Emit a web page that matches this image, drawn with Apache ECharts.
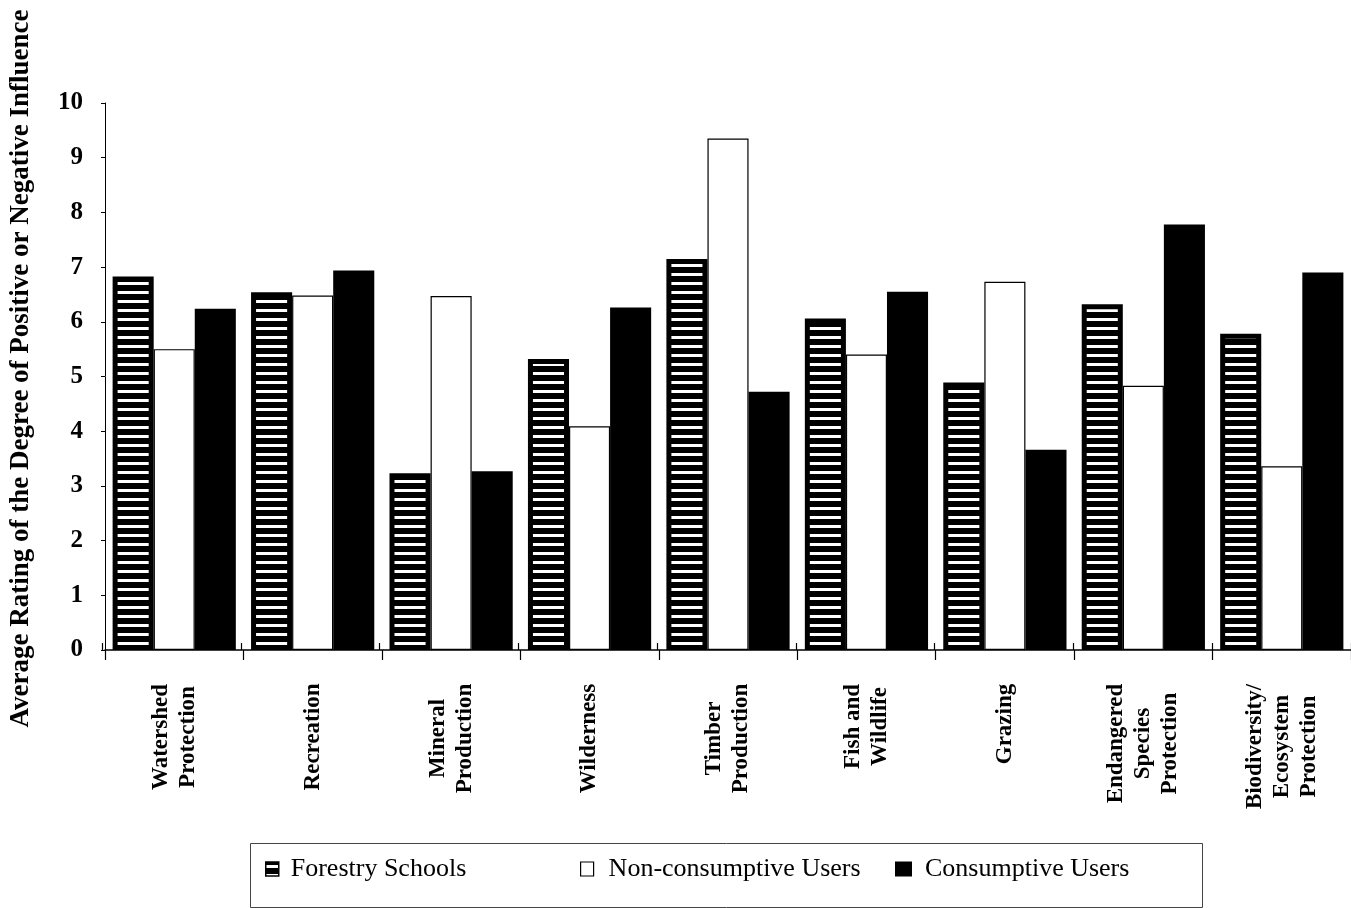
<!DOCTYPE html>
<html>
<head>
<meta charset="utf-8">
<script src="https://cdn.jsdelivr.net/npm/echarts@6/dist/echarts.min.js"></script>
<style>
html,body{margin:0;padding:0;background:#fff;}
#chart{width:1351px;height:908px;}
</style>
</head>
<body>
<div id="chart"></div>
<script>
// ---- data ----
const categories = ['Watershed\nProtection', 'Recreation', 'Mineral\nProduction', 'Wilderness',
  'Timber\nProduction', 'Fish and\nWildlife', 'Grazing', 'Endangered\nSpecies\nProtection',
  'Biodiversity/\nEcosystem\nProtection'];
const seriesNames = ['Forestry Schools', 'Non-consumptive Users', 'Consumptive Users'];
const forestrySchools = [6.83, 6.54, 3.23, 5.32, 7.15, 6.06, 4.89, 6.32, 5.78];
const nonConsumptive = [5.50, 6.48, 6.47, 4.09, 9.35, 5.40, 6.73, 4.83, 3.36];
const consumptive = [6.24, 6.94, 3.27, 6.26, 4.72, 6.55, 3.66, 7.78, 6.90];
const yTicks = [0, 1, 2, 3, 4, 5, 6, 7, 8, 9, 10];
const yTitle = 'Average Rating of the Degree of Positive or Negative Influence';

// ---- styling helpers ----
const SERIF = '"Liberation Serif", "Times New Roman", serif';
const X_FONT_SIZE = 23;
const X_FONT_WEIGHT = 'bold';

// striped pattern
const pat = document.createElement('canvas');
pat.width = 8; pat.height = 9;
(function () {
  const c = pat.getContext('2d');
  c.fillStyle = '#000'; c.fillRect(0, 0, 8, 9);
  c.fillStyle = '#fff'; c.fillRect(0, 3, 8, 3);
})();
const stripe = { image: pat, repeat: 'repeat' };

// measure label widths for centred multi-line labels
const mc = document.createElement('canvas').getContext('2d');
mc.font = X_FONT_WEIGHT + ' ' + X_FONT_SIZE + 'px ' + SERIF;
const rich = {};
categories.forEach((c, i) => {
  const w = Math.max(...c.split('\n').map(l => mc.measureText(l).width));
  rich['c' + i] = {
    width: Math.ceil(w) + 1, align: 'center', lineHeight: 27,
    fontSize: X_FONT_SIZE, fontWeight: X_FONT_WEIGHT, fontFamily: SERIF, color: '#000'
  };
});

const chart = echarts.init(document.getElementById('chart'), null, { renderer: 'canvas' });

const gridBase = { left: 102, top: 103, width: 1251, height: 547 };
const legendText = { fontFamily: SERIF, fontSize: 26, color: '#000' };

const option = {
  backgroundColor: '#fff',
  animation: false,
  grid: [Object.assign({}, gridBase), Object.assign({}, gridBase)],
  xAxis: [{
    type: 'category', gridIndex: 0, data: categories,
    axisLine: { lineStyle: { color: '#000', width: 1.5 } },
    axisTick: { show: true, length: 10, lineStyle: { color: '#000', width: 1.2 } },
    axisLabel: {
      interval: 0, rotate: 90, margin: 33,
      formatter: (v, i) => v.split('\n').map(l => '{c' + i + '|' + l + '}').join('\n'),
      rich: rich
    }
  }, {
    type: 'category', gridIndex: 1, data: categories, position: 'bottom',
    axisLine: { show: false },
    axisTick: { show: true, inside: true, length: 7, lineStyle: { color: '#000', width: 1.2 } },
    axisLabel: { show: false }
  }],
  yAxis: [{
    type: 'value', gridIndex: 0, min: 0, max: 10, interval: 1,
    name: yTitle, nameLocation: 'middle', nameGap: 70,
    nameTextStyle: { fontFamily: SERIF, fontSize: 27, fontWeight: 'bold', color: '#000', padding: [0, 0, 0, 16] },
    axisLine: { show: true, lineStyle: { color: '#000', width: 1 } },
    axisTick: { show: true, length: 4, lineStyle: { color: '#000' } },
    splitLine: { show: false },
    axisLabel: {
      margin: 22, fontFamily: SERIF, fontSize: 25, fontWeight: 'bold', color: '#000',
      formatter: v => yTicks.includes(v) ? String(v) : ''
    }
  }, {
    type: 'value', gridIndex: 1, min: 0, max: 10, interval: 1, show: false
  }],
  legend: [{
    data: [{ name: seriesNames[0], itemStyle: { borderWidth: 1.5, borderColor: '#000' } }],
    left: 260, top: 851, itemWidth: 13, itemHeight: 14, icon: 'rect',
    textStyle: Object.assign({ padding: [0, 0, 0, 7] }, legendText)
  }, {
    data: [{ name: seriesNames[1], itemStyle: { borderWidth: 1.2, borderColor: '#000' } }],
    left: 575, top: 851, itemWidth: 13, itemHeight: 14, icon: 'rect',
    textStyle: Object.assign({ padding: [0, 0, 0, 10] }, legendText)
  }, {
    data: [{ name: seriesNames[2] }],
    left: 890, top: 851, itemWidth: 17, itemHeight: 15, icon: 'rect',
    textStyle: Object.assign({ padding: [0, 0, 0, 8] }, legendText)
  }],
  graphic: [{
    type: 'rect', left: 248, top: 841, silent: true, z: -10,
    shape: { width: 952, height: 64 },
    style: { fill: 'none', stroke: '#444', lineWidth: 1 }
  }],
  series: [{
    name: seriesNames[0], type: 'bar', data: forestrySchools,
    xAxisIndex: 0, yAxisIndex: 0,
    barGap: '0%', barCategoryGap: '11%',
    itemStyle: { color: stripe, borderColor: '#000', borderWidth: 5 }
  }, {
    name: seriesNames[1], type: 'bar', data: nonConsumptive,
    xAxisIndex: 0, yAxisIndex: 0,
    barGap: '0%', barCategoryGap: '11%',
    itemStyle: { color: '#fff', borderColor: '#000', borderWidth: 1.2 }
  }, {
    name: seriesNames[2], type: 'bar', data: consumptive,
    xAxisIndex: 0, yAxisIndex: 0,
    barGap: '0%', barCategoryGap: '11%',
    itemStyle: { color: '#000' }
  }]
};
chart.setOption(option);
</script>
</body>
</html>
